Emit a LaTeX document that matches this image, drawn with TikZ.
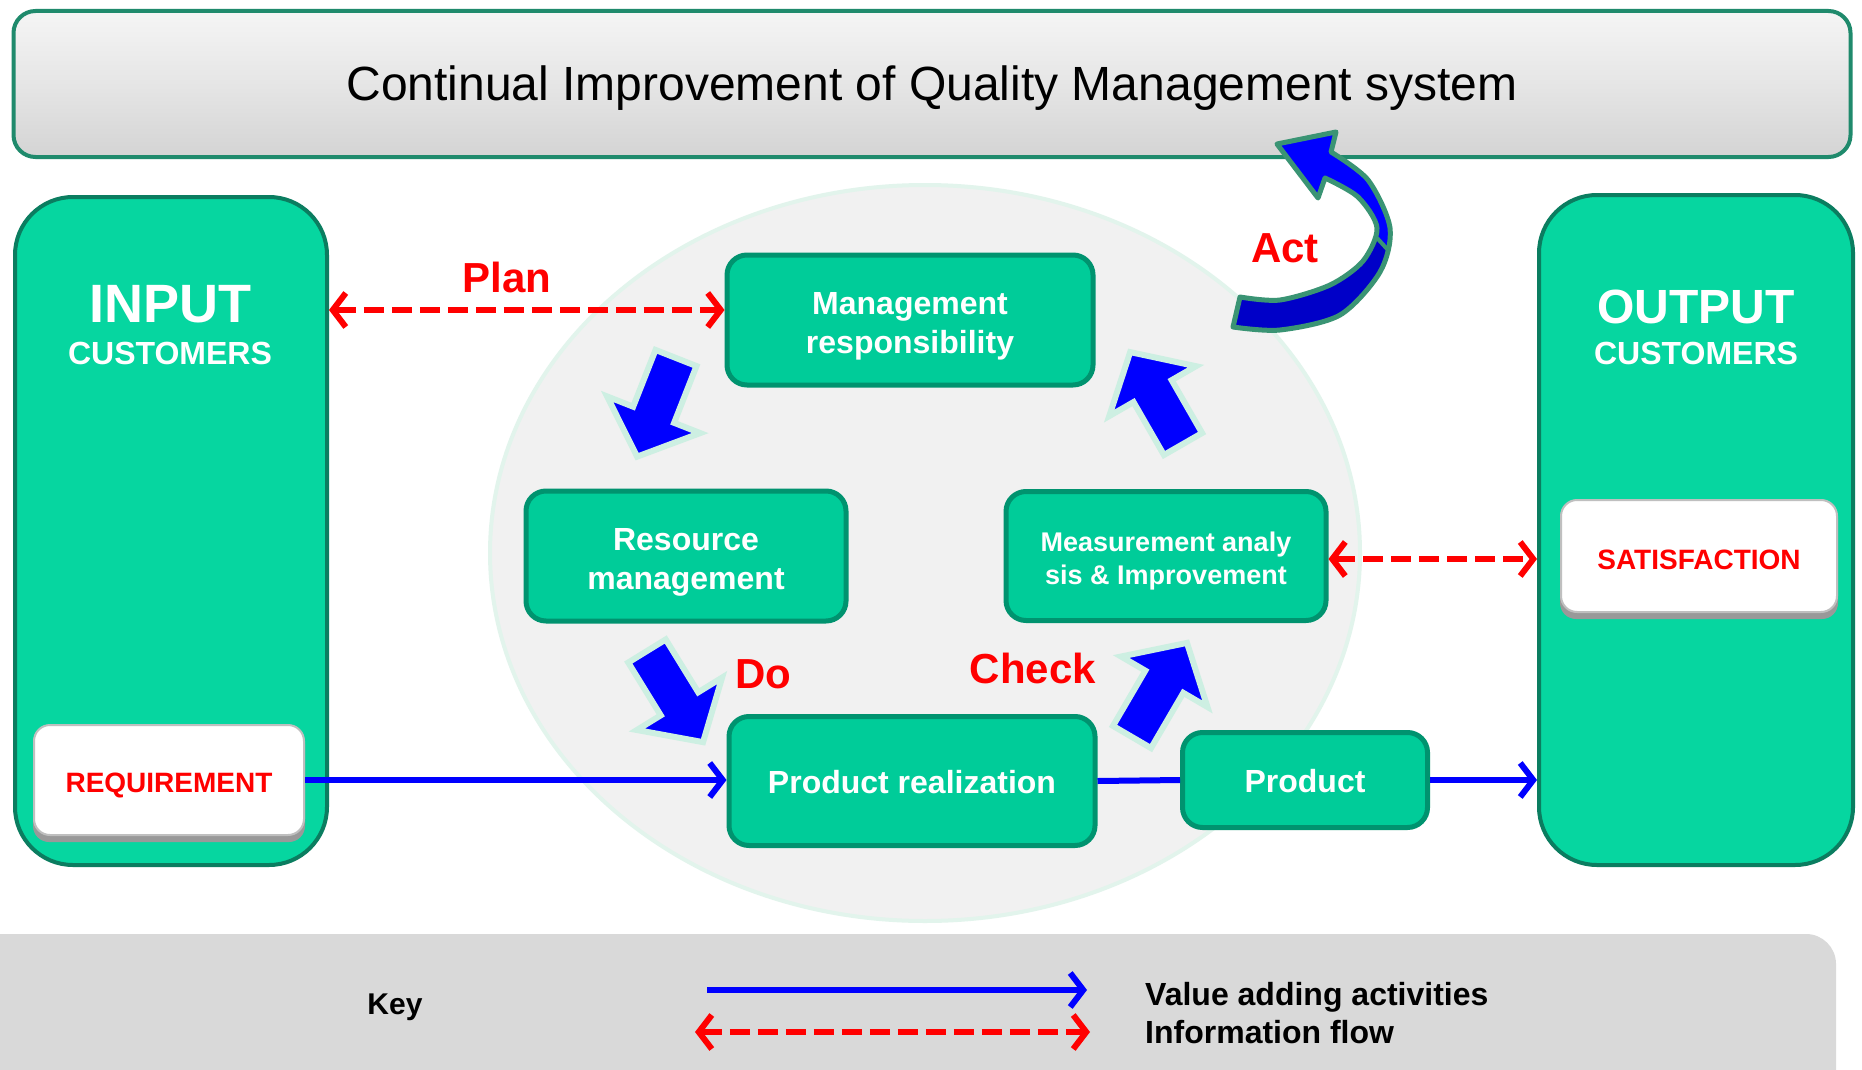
\documentclass[tikz,border=0pt]{standalone}
\usepackage{fontspec}
\setmainfont{Liberation Sans}
\usetikzlibrary{arrows.meta,calc}
\definecolor{proc}{HTML}{00CC99}
\definecolor{procb}{HTML}{00936F}
\definecolor{sidef}{HTML}{06D6A0}
\definecolor{sideb}{HTML}{0B7D60}
\definecolor{ellf}{HTML}{F1F1F1}
\definecolor{ellb}{HTML}{E2F4EC}
\definecolor{pale}{HTML}{CDEFE2}
\definecolor{actg}{HTML}{3A9474}
\definecolor{keyg}{HTML}{D9D9D9}
\definecolor{titleb}{HTML}{1F8A6C}
\definecolor{bl}{HTML}{0000FF}
\definecolor{dbl}{HTML}{0000C8}
\definecolor{rd}{HTML}{FF0000}
\tikzset{
  procbox/.style={rounded corners=20pt, fill=proc, draw=procb, line width=5pt, inner sep=0pt},
  proctext/.style={text=white, align=center, inner sep=0pt, font=\bfseries\fontsize{32}{39}\selectfont},
  sidebox/.style={rounded corners=58pt, fill=sidef, draw=sideb, line width=4pt, inner sep=0pt},
  wbox/.style={rounded corners=16pt, fill=white, draw=black!25, line width=2pt, inner sep=0pt},
  wtext/.style={text=rd, inner sep=0pt, font=\bfseries\fontsize{28}{28}\selectfont},
  wshadow/.style={rounded corners=16pt, fill=black!40, draw=none, inner sep=0pt},
  redlbl/.style={text=rd, font=\bfseries\fontsize{42}{42}\selectfont, anchor=base, inner sep=0pt},
  hdr/.style={text=white, anchor=base, inner sep=0pt},
  keytxt/.style={text=black, anchor=base west, inner sep=0pt, font=\bfseries\fontsize{32}{32}\selectfont},
  infoflow/.style={draw=rd, line width=6pt, dash pattern=on 20pt off 8pt, {Straight Barb[length=13pt,width=34pt]}-{Straight Barb[length=13pt,width=34pt]}},
  valueflow/.style={draw=bl, line width=6pt, -{Straight Barb[length=13pt,width=34pt]}},
  plainflow/.style={draw=bl, line width=6pt},
  blk/.style={fill=bl, draw=pale, line width=6pt, line join=miter},
}
\newcommand\blkarrow[3]{%
  \begin{scope}[shift={#1},rotate=#2]
    \draw[blk] (0,-22) -- ({#3-45},-22) -- ({#3-45},-50) -- (#3,0) -- ({#3-45},50) -- ({#3-45},22) -- (0,22) -- cycle;
  \end{scope}}
\begin{document}
\begin{tikzpicture}[x=1pt,y=-1pt]
\useasboundingbox (0,0) rectangle (1862,1070);
\clip (0,0) rectangle (1862,1070);
\fill[white] (0,0) rectangle (1862,1070);

% title bar
\node[rounded corners=22pt, top color=black!4, bottom color=black!17, middle color=black!10, draw=titleb, line width=4pt, minimum width=1837pt, minimum height=146pt, inner sep=0pt] (tbox) at (932,84) {};
\node[anchor=base, inner sep=0pt, font=\fontsize{48}{48}\selectfont] (title) at (932,101) {Continual Improvement of Quality Management system};

% key area
\fill[keyg, rounded corners=30pt] (-40,934) rectangle (1836,1120);

% background ellipse
\draw[fill=ellf, draw=ellb, line width=4pt] (925,553) ellipse [x radius=435pt, y radius=368pt];

% side boxes
\node[sidebox, minimum width=312pt, minimum height=668pt] (input) at (171,531) {};
\node[sidebox, minimum width=314pt, minimum height=670pt] (output) at (1696,530) {};
\node[hdr, font=\bfseries\fontsize{54}{54}\selectfont] (inputt) at (170,322) {INPUT};
\node[hdr, font=\bfseries\fontsize{32}{32}\selectfont] (inputc) at (170,364) {CUSTOMERS};
\node[hdr, font=\bfseries\fontsize{48}{48}\selectfont] (outputt) at (1696,323) {OUTPUT};
\node[hdr, font=\bfseries\fontsize{32}{32}\selectfont] (outputc) at (1696,364) {CUSTOMERS};

% white boxes
\node[wshadow, minimum width=272pt, minimum height=114pt] (reqs) at (169,785) {};
\node[wbox, minimum width=270pt, minimum height=110pt] (req) at (169,780) {};
\node[wtext] (reqt) at ([yshift=-5pt]req.center) {REQUIREMENT};
\node[wshadow, minimum width=278pt, minimum height=116pt] (sats) at (1699,561) {};
\node[wbox, minimum width=276pt, minimum height=112pt] (sat) at (1699,556) {};
\node[wtext] (satt) at ([yshift=-4pt]sat.center) {SATISFACTION};

% process boxes
\node[procbox, minimum width=366pt, minimum height=130pt] (mgmt) at (910,320) {};
\node[proctext] (mgmtt) at ([yshift=-6pt]mgmt.center) {Management\\responsibility};
\node[procbox, minimum width=320pt, minimum height=130pt] (res) at (686,556) {};
\node[proctext] (rest) at ([yshift=-6pt]res.center) {Resource\\management};
\node[procbox, minimum width=320pt, minimum height=129pt] (meas) at (1166,556) {};
\node[proctext, font=\bfseries\fontsize{27}{33}\selectfont] (meast) at ([yshift=-5pt]meas.center) {Measurement analy\\sis \& Improvement};
\node[procbox, minimum width=366pt, minimum height=129pt] (prod) at (912,781) {};
\node[proctext] (prodt) at ([yshift=-1pt]prod.center) {Product realization};
\node[procbox, minimum width=245pt, minimum height=95pt] (product) at (1305,780) {};
\node[proctext] (productt) at ([yshift=-1pt]product.center) {Product};

% PDCA block arrows
\blkarrow{(676,358)}{-111.5}{106}
\blkarrow{(647,651)}{-58.4}{107}
\blkarrow{(1132,737)}{59.7}{109}
\blkarrow{(1183,444)}{119.9}{106}

% Act curved arrow
\fill[bl] plot[smooth] coordinates {(1240,297) (1280,300) (1330,285) (1363,261) (1377,228) (1358,197) (1325,178)}
  -- (1318,198) -- (1277,144) -- (1336,132) -- (1331,152)
  -- plot[smooth] coordinates {(1331,152) (1368,180) (1390,228) (1380,272) (1340,315) (1280,330) (1233,327)} -- cycle;
\fill[dbl] plot[smooth] coordinates {(1240,297) (1280,300) (1330,285) (1363,261) (1377,240)}
  -- (1388,250) -- plot[smooth] coordinates {(1388,250) (1380,272) (1340,315) (1280,330) (1233,327)} -- cycle;
\draw[actg, line width=5pt, line join=round] plot[smooth] coordinates {(1240,297) (1280,300) (1330,285) (1363,261) (1377,228) (1358,197) (1325,178)}
  -- (1318,198) -- (1277,144) -- (1336,132) -- (1331,152)
  -- plot[smooth] coordinates {(1331,152) (1368,180) (1390,228) (1380,272) (1340,315) (1280,330) (1233,327)} -- cycle;
\draw[actg, line width=4pt] (1377,238) -- (1388,250);

% labels
\node[redlbl] (plan) at (507,292) {Plan};
\node[redlbl] (act) at (1285,262) {Act};
\node[redlbl] (do) at (763,688) {Do};
\node[redlbl] (check) at (1033,683) {Check};

% connectors
\draw[infoflow] ([yshift=10pt]mgmt.west -| input.east) -- ([yshift=10pt]mgmt.west);
\draw[infoflow] ([yshift=-3pt]meas.east) -- ([yshift=-3pt]meas.east -| output.west);
\draw[valueflow] (req.east) -- (req.east -| prod.west);
\draw[plainflow] (prod.east) -- (product.west);
\draw[valueflow] (product.east) -- (product.east -| output.west);

% key
\node[anchor=base, inner sep=0pt, font=\bfseries\fontsize{30}{30}\selectfont] (key) at (395,1014) {Key};
\coordinate (k1) at (707,990);
\coordinate (k2) at (1087,990);
\coordinate (k3) at (695,1032);
\coordinate (k4) at (1090,1032);
\draw[valueflow] (k1) -- (k2);
\draw[infoflow] (k3) -- (k4);
\node[keytxt] (kv) at (1145,1005) {Value adding activities};
\node[keytxt] (ki) at (1145,1043) {Information flow};
\end{tikzpicture}
\end{document}
